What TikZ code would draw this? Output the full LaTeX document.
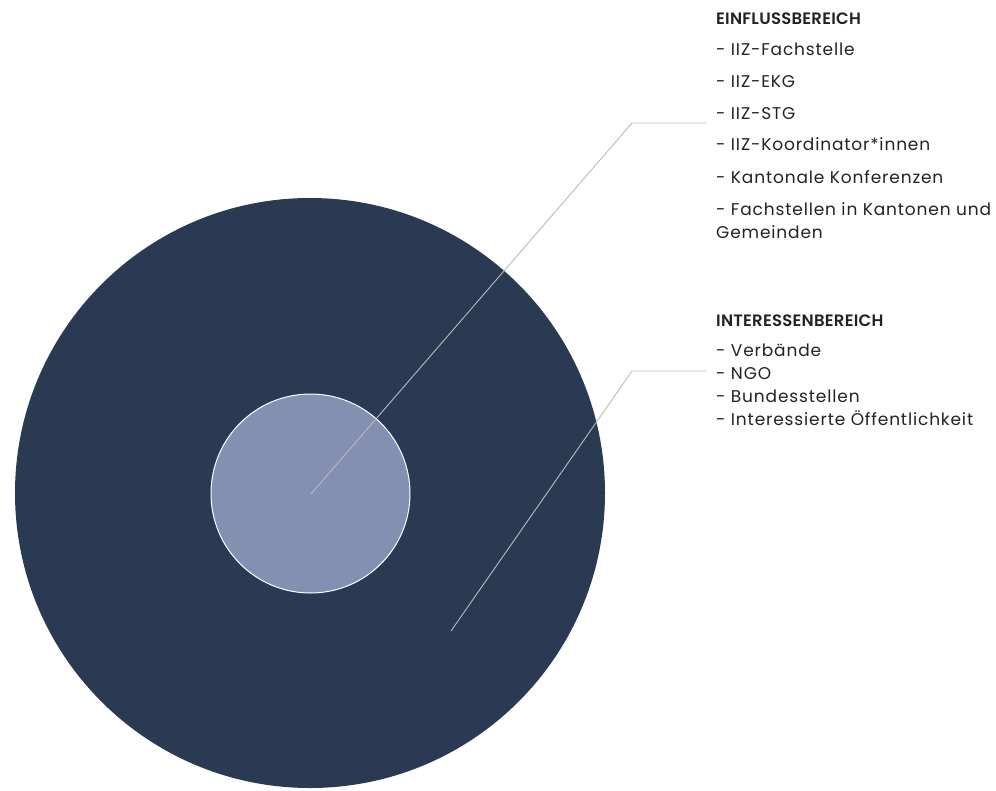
\documentclass[tikz,border=0pt]{standalone}
\usepackage{fontspec}
\newfontfamily\lblfont{Poppins}[LetterSpace=5]
\newfontfamily\hdrfont{Poppins}[LetterSpace=1.5, UprightFont=*-SemiBold]
\definecolor{outerc}{HTML}{293A52}
\definecolor{innerc}{HTML}{8490B1}
\definecolor{linec}{HTML}{BBBBBB}
\definecolor{txt}{HTML}{222222}
\begin{document}
\begin{tikzpicture}[x=1pt,y=-1pt,
  lbl/.style={anchor=base west, inner sep=0pt, text=txt, font=\lblfont\fontsize{17}{20}\selectfont},
  hdr/.style={lbl, font=\hdrfont\fontsize{16.5}{20}\selectfont},
  conn/.style={draw=linec, line width=0.9pt}]
\useasboundingbox (0,0) rectangle (996,790);
\node[circle, fill=outerc, inner sep=0pt, minimum size=590pt] (outer) at (310,493) {};
\node[circle, fill=innerc, draw=white, line width=1pt, inner sep=0pt, minimum size=199pt] (inner) at (310.5,493.5) {};
\coordinate (c) at (311,494);
\coordinate (k1) at (632,123);
\coordinate (e1) at (706,123);
\coordinate (s) at (451,631);
\coordinate (k2) at (632,371);
\coordinate (e2) at (706,371);
\draw[conn] (c) -- (k1) -- (e1);
\draw[conn] (s) -- (k2) -- (e2);
\node[hdr] (h1) at (716,24) {EINFLUSSBEREICH};
\node[lbl] (a1) at (716,55) {- IIZ-Fachstelle};
\node[lbl] (a2) at (716,87) {- IIZ-EKG};
\node[lbl] (a3) at (716,119) {- IIZ-STG};
\node[lbl] (a4) at (716,150) {- IIZ-Koordinator*innen};
\node[lbl] (a5) at (716,183) {- Kantonale Konferenzen};
\node[lbl] (a6) at (716,215) {- Fachstellen in Kantonen und};
\node[lbl] (a7) at (716,238) {Gemeinden};
\node[hdr] (h2) at (716,326) {INTERESSENBEREICH};
\node[lbl] (b1) at (716,356) {- Verbände};
\node[lbl] (b2) at (716,379) {- NGO};
\node[lbl] (b3) at (716,402) {- Bundesstellen};
\node[lbl] (b4) at (716,425) {- Interessierte Öffentlichkeit};
\end{tikzpicture}
\end{document}
